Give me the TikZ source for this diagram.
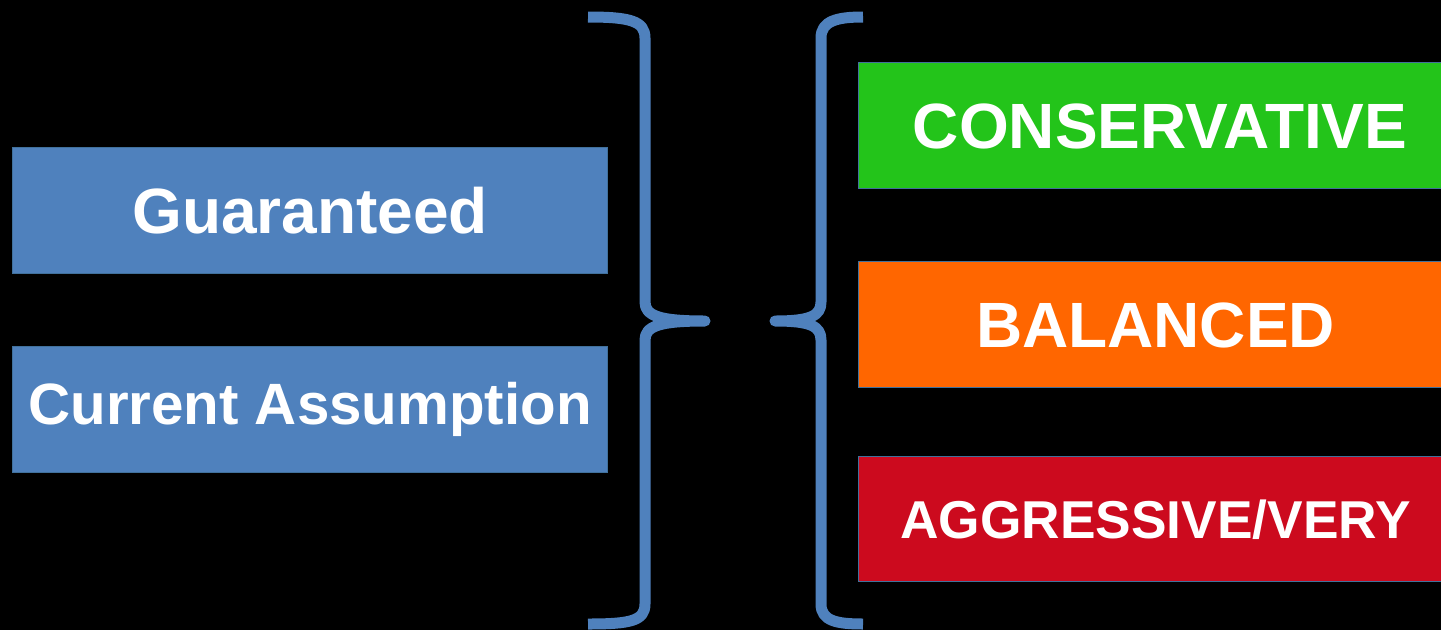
\documentclass[tikz,border=0pt]{standalone}
\usepackage{fontspec}
\setmainfont{Liberation Sans}
\definecolor{boxblue}{RGB}{79,129,189}
\definecolor{edgeblue}{RGB}{65,113,156}
\definecolor{boxgreen}{RGB}{35,196,26}
\definecolor{boxorange}{RGB}{255,102,0}
\definecolor{boxred}{RGB}{204,10,30}
\begin{document}
\begin{tikzpicture}[x=1pt,y=-1pt,
  panel/.style={draw=edgeblue, line width=1.2pt, text=white,
    font=\bfseries\fontsize{64}{72}\selectfont,
    text height=45.5pt, text depth=0pt, inner sep=0pt, anchor=north west},
  midpanel/.style={panel, font=\bfseries\fontsize{58.3}{66}\selectfont, text height=42pt, text depth=12pt},
  smallpanel/.style={panel, font=\bfseries\fontsize{53.3}{60}\selectfont, text height=38pt},
  brace/.style={draw=boxblue, line width=11pt, line join=round}]
% background and page frame
\fill[black] (0,0) rectangle (1441,630);
\useasboundingbox (0,0) rectangle (1441,630);
\clip (0,0) rectangle (1441,630);

% left column
\node[panel, fill=boxblue, minimum width=595pt, minimum height=126pt] (guar) at (12,147) {Guaranteed};
\node[midpanel, fill=boxblue, minimum width=595pt, minimum height=126pt] (curr) at (12,346) {Current Assumption};

% right column
\node[panel, fill=boxgreen, minimum width=603pt, minimum height=126pt] (cons) at (858,62) {CONSERVATIVE};
\node[panel, fill=boxorange, minimum width=594pt, minimum height=126pt] (bal) at (858,261) {BALANCED};
\node[smallpanel, fill=boxred, minimum width=594pt, minimum height=125pt] (aggr) at (858,456) {AGGRESSIVE/VERY};

% closing brace
\draw[brace] (588,17) .. controls (630,17) and (645,21) .. (645,38)
  -- (645,302) .. controls (645,316) and (660,321) .. (705,321)
  .. controls (660,321) and (645,326) .. (645,340)
  -- (645,604) .. controls (645,621) and (630,624) .. (588,624);

% opening brace
\draw[brace] (863,17) .. controls (837,17) and (821,21) .. (821,38)
  -- (821,302) .. controls (821,316) and (810,321) .. (775,321)
  .. controls (810,321) and (821,326) .. (821,340)
  -- (821,604) .. controls (821,621) and (837,624) .. (863,624);
\end{tikzpicture}
\end{document}
